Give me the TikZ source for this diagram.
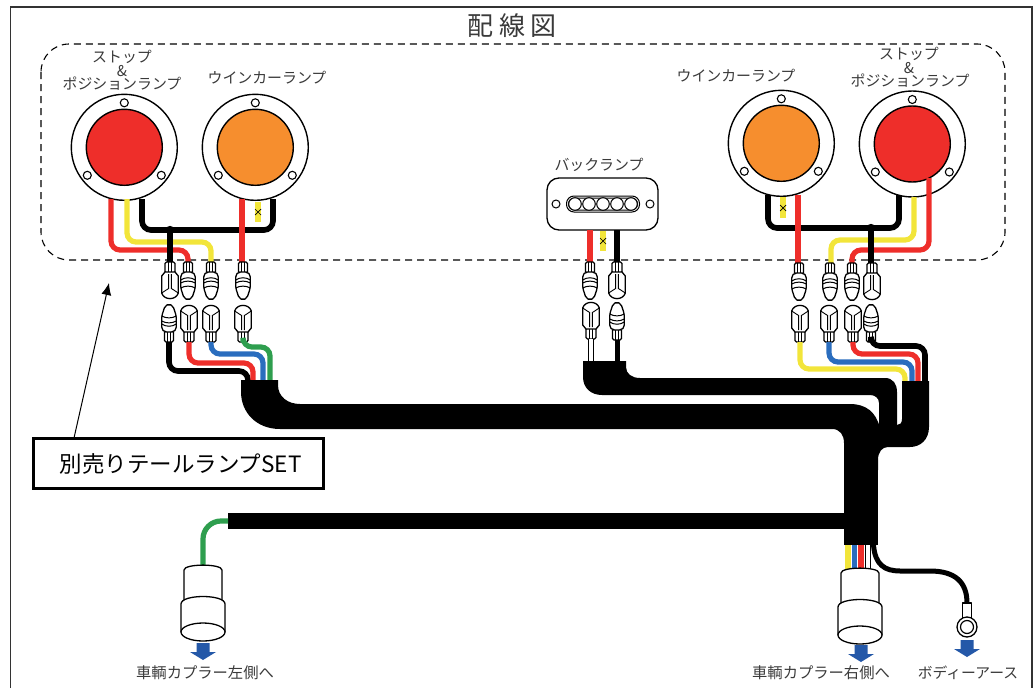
\documentclass[tikz,border=0pt]{standalone}
\usepackage{fontspec}
\newfontfamily\cjk{Noto Sans CJK JP}
\usetikzlibrary{arrows.meta}
\definecolor{lampred}{HTML}{EE2E2A}
\definecolor{lamporange}{HTML}{F68E2E}
\definecolor{wireyellow}{HTML}{F2E53A}
\definecolor{wireblue}{HTML}{2A6DBE}
\definecolor{wiregreen}{HTML}{2E9E4E}
\definecolor{arrowblue}{HTML}{2458A8}
\definecolor{textgray}{HTML}{3A3A3A}
\tikzset{
  lbl/.style={font=\cjk\fontsize{14.9}{16}\selectfont,text=textgray,inner sep=0pt},
  wire/.style={line width=5.2pt,rounded corners=9pt},
  blackwire/.style={wire,black,line width=5.6pt},
  outl/.style={line width=1.3pt,fill=white,line join=round},
  pics/lamp/.style={code={
    \draw[line width=1.4pt,fill=white] (0,0) circle (53pt);
    \draw[line width=1.4pt,fill=#1] (0,0) circle (38pt);
    \draw[line width=1.1pt,fill=white] (0,-44.5) circle (4pt);
    \draw[line width=1.1pt,fill=white] (-37,28) circle (4pt);
    \draw[line width=1.1pt,fill=white] (37,28) circle (4pt);
  }},
  pics/bullet/.style={code={
    \coordinate (-top) at (0,0);
    \draw[outl,rounded corners=1.5pt] (-4.5,0) -- (-4.5,11) -- (4.5,11) -- (4.5,0) -- cycle;
    \draw[line width=1pt] (-1.7,0) -- (-1.7,10) (1.7,0) -- (1.7,10);
    \draw[outl,rounded corners=2pt] (-4.5,10) -- (-7.3,13) -- (-7.3,26) -- (-4,36) -- (0,38) -- (4,36) -- (7.3,26) -- (7.3,13) -- (4.5,10) -- cycle;
    \draw[line width=1pt] (-7.3,18) .. controls (-3,15) and (3,15) .. (7.3,18);
    \draw[line width=1pt] (-7.3,21) .. controls (-3,18.5) and (3,18.5) .. (7.3,21);
    \draw[line width=1pt] (-7.3,26) .. controls (-3,23.5) and (3,23.5) .. (7.3,26);
  }},
  pics/sleeve/.style={code={
    \coordinate (-top) at (0,0);
    \draw[outl,rounded corners=1.5pt] (-5,0) -- (-5,11) -- (5,11) -- (5,0) -- cycle;
    \draw[line width=1pt] (-1.7,0) -- (-1.7,10) (1.7,0) -- (1.7,10);
    \draw[outl] (-5,10) -- (-8.3,14) -- (-8.3,31) .. controls (-6,38.5) and (6,38.5) .. (8.3,31) -- (8.3,14) -- (5,10) -- cycle;
    \draw[line width=.9pt] (-8.3,31) -- (-1.4,26.5) -- (-1.4,12) (8.3,31) -- (1.4,26.5) -- (1.4,12);
  }},
  pics/coupler/.style={code={
    \draw[outl] (-19,5) .. controls (-19,-1.5) and (19,-1.5) .. (19,5) -- (19,38) -- (-19,38) -- cycle;
    \draw[outl] (-22,67) -- (-22,39) .. controls (-22,29) and (22,29) .. (22,39) -- (22,67) -- cycle;
    \draw[outl] (0,67) ellipse (22pt and 9pt);
  }},
  pics/downarrow/.style={code={
    \fill[arrowblue] (-6.5,0) -- (6.5,0) -- (6.5,9) -- (13,9) -- (0,17) -- (-13,9) -- (-6.5,9) -- cycle;
  }},
  pics/xmark/.style={code={
    \draw[line width=.7pt] (-3,-3) -- (3,3) (-3,3) -- (3,-3);
  }},
}
\begin{document}
\begin{tikzpicture}[x=1pt,y=-1pt]
\useasboundingbox (0,0) rectangle (1036,688);
\draw[line width=1.6pt,color=black!80] (10.5,688) -- (10.5,7) -- (1032,7) -- (1032,688);
\node[lbl,font=\cjk\fontsize{26}{28}\selectfont] (title) at (512,26) {配 線 図};
\draw[line width=1.1pt,dash pattern=on 7pt off 5pt,rounded corners=28pt] (41,44) rectangle (1005,260);

% lamps
\pic (lampa) at (124.3,147.3) {lamp={lampred}};
\pic (lampb) at (255.3,147.3) {lamp={lamporange}};
\pic (lampc) at (781.3,143.3) {lamp={lamporange}};
\pic (lampd) at (912.3,144) {lamp={lampred}};
\node[lbl] (stopa) at (122,57) {ストップ};
\node[lbl] (anda) at (122,71) {\&};
\node[lbl] (posa) at (122,84) {ポジションランプ};
\node[lbl] (winka) at (267,78) {ウインカーランプ};
\node[lbl] (winkb) at (736,76) {ウインカーランプ};
\node[lbl] (stopb) at (909,54) {ストップ};
\node[lbl] (andb) at (909,68) {\&};
\node[lbl] (posb) at (910,81) {ポジションランプ};

% back lamp
\node[lbl] (backtext) at (599,165) {バックランプ};
\draw[line width=1.3pt,fill=white,rounded corners=12pt] (547,178) rectangle (658,230);
\draw[line width=1pt,rounded corners=7.5pt] (566.5,196) rectangle (639.5,212);
\draw[line width=1pt,rounded corners=6pt] (568.5,198) rectangle (637.5,210);
\draw[line width=1pt,fill=white] (575,204) circle (6.3pt) (589,204) circle (6.3pt) (603,204) circle (6.3pt) (617,204) circle (6.3pt) (631,204) circle (6.3pt);
\draw[line width=1pt] (556,204) circle (4pt) (650,204) circle (4pt);

% connectors, upper row and lower row
\coordinate (hla) at (248,381);
\coordinate (hlb) at (253,381);
\coordinate (hlc) at (263,381);
\coordinate (hld) at (270,381);
\coordinate (hra) at (905,382);
\coordinate (hrb) at (912,382);
\coordinate (hrc) at (918,382);
\coordinate (hrd) at (925,382);
\coordinate (dota) at (170,230);
\coordinate (dotb) at (871,228);

\draw[wire,lampred] (111,199) |- (188,250) -- (188,264);
\draw[wire,wireyellow] (127,199) |- (211,242) -- (211,264);
\draw[blackwire] (142,199) |- (273,230) -- (273,199);
\draw[blackwire] (dota) -- (170,264);
\draw[wire,lampred] (242,199) -- (242,264);
\draw[wire,wireyellow] (258,202) -- (258,222);
\pic at (258,212) {xmark};
\fill (dota) circle (4.2pt);

\draw[wire,lampred] (590,230) -- (590,264);
\draw[wire,wireyellow] (603,231) -- (603,251);
\pic at (603,241) {xmark};
\draw[blackwire] (617,230) -- (617,264);

\draw[wire,wireyellow] (783,197) -- (783,218);
\pic at (783,208) {xmark};
\draw[wire,wireyellow] (914,197) |- (831,240) -- (831,264);
\draw[wire,lampred] (929,178) |- (852,250) -- (852,264);
\draw[blackwire] (768,195) |- (899,228) -- (899,195);
\draw[wire,lampred] (798,195) -- (798,264);
\draw[blackwire] (dotb) -- (871,264);
\fill (dotb) circle (4.2pt);

\pic (ua) at (170,262) {sleeve};
\pic (ub) at (188,262) {bullet};
\pic (uc) at (211,262) {bullet};
\pic (ud) at (243,262) {bullet};
\pic[yscale=-1] (la) at (169,342) {bullet};
\pic[yscale=-1] (lb) at (189,342) {sleeve};
\pic[yscale=-1] (lc) at (211,342) {sleeve};
\pic[yscale=-1] (ld) at (243,342) {sleeve};

\pic (um) at (590,262) {bullet};
\pic (un) at (617,262) {sleeve};
\pic[yscale=-1] (lm) at (591,339) {sleeve};
\pic[yscale=-1] (ln) at (617,340) {bullet};

\pic (ue) at (799,263) {bullet};
\pic (uf) at (830,263) {bullet};
\pic (ug) at (852,263) {bullet};
\pic (uh) at (872,263) {sleeve};
\pic[yscale=-1] (le) at (800,342) {sleeve};
\pic[yscale=-1] (lf) at (829,342) {sleeve};
\pic[yscale=-1] (lg) at (853,342) {sleeve};
\pic[yscale=-1] (lh) at (871,342) {bullet};

\draw[blackwire] (la-top) -- ++(0,29) -| (hla);
\draw[wire,lampred] (lb-top) -- ++(0,21) -| (hlb);
\draw[wire,wireblue] (lc-top) -- ++(0,12) -| (hlc);
\draw[wire,wiregreen] (ld-top) -- ++(0,5) -| (hld);

\draw[wire,wireyellow] (le-top) -- ++(0,27) -| (hra);
\draw[wire,wireblue] (lf-top) -- ++(0,20) -| (hrb);
\draw[wire,lampred] (lg-top) -- ++(0,12) -| (hrc);
\draw[blackwire] (lh-top) -- ++(0,4) -| (hrd);

\draw[line width=6.5pt] (lm-top) -- (591,363);
\draw[line width=4pt,white] (lm-top) -- (591,363);
\draw[line width=5pt] (ln-top) -- (617,363);

% harness
\fill (241,380) -- (278,380) -- (278,385) .. controls (278,397) and (288,404) .. (300,404) -- (850,404) .. controls (866,404) and (876,412) .. (880,428) -- (880,445) -- (844,445) -- (844,443) .. controls (844,435) and (840,429) .. (832,429) -- (280,429) .. controls (256,429) and (241,412) .. (241,392) -- cycle;
\fill (583,361) -- (626,361) -- (626,367) .. controls (626,374) and (632,378) .. (640,378) -- (885,378) .. controls (893,378) and (897,384) .. (897,392) -- (897,430) -- (879,430) -- (879,403) .. controls (879,398) and (875,395) .. (870,395) -- (602,395) .. controls (591,395) and (583,388) .. (583,377) -- cycle;
\fill (902,381) -- (929,381) -- (929,427) .. controls (929,440) and (920,447) .. (910,447) -- (888,447) .. controls (882,447) and (878,452) .. (878,460) -- (878,470) -- (860,470) -- (860,425) -- (897,425) .. controls (900,425) and (902,423) .. (902,419) -- cycle;
\fill (844,440) rectangle (878,545);
\fill (228,513) rectangle (850,529);

% lower end of the harness
\coordinate (leftend) at (228,521);
\coordinate (leftplug) at (203,566);
\coordinate (rightplug) at (860,570);
\coordinate (ringtop) at (967,603);
\draw[wire,wiregreen,rounded corners=18pt] (leftend) -| (leftplug);
\draw[line width=5.4pt,wireyellow] (848,545) -- (848,572);
\draw[line width=5.4pt,wireblue] (854.5,545) -- (854.5,572);
\draw[line width=5.4pt,lampred] (861,545) -- (861,572);
\draw[line width=5.6pt] (868,545) -- (868,572);
\draw[line width=3.8pt,white] (868,545) -- (868,572);
\draw[line width=5pt] (873.5,545) .. controls (875,565) and (885,571) .. (900,571) -- (930,571) .. controls (955,571) and (967,582) .. (ringtop);
\pic at (203,565) {coupler};
\pic at (860,568) {coupler};
\draw[outl] (962.8,603) -- (962.8,620) -- (971.2,620) -- (971.2,603) -- cycle;
\draw[outl] (967,627) circle (10pt);
\draw[line width=1.2pt] (967,627) circle (6.5pt);
\pic at (203,643) {downarrow};
\pic at (861,645) {downarrow};
\pic at (967,640) {downarrow};
\node[lbl,font=\cjk\fontsize{15.3}{17}\selectfont] (cara) at (205,673) {車輌カプラー左側へ};
\node[lbl,font=\cjk\fontsize{15.3}{17}\selectfont] (carb) at (821,673) {車輌カプラー右側へ};
\node[lbl,font=\cjk\fontsize{14.8}{17}\selectfont] (earth) at (968,673) {ボディーアース};

% set label
\node[draw,line width=2.4pt,minimum width=290pt,minimum height=50pt,inner sep=0pt,font=\cjk\fontsize{22.5}{24}\selectfont] (setbox) at (178.5,463.5) {\hspace{4pt}別売りテールランプSET};
\coordinate (leadfoot) at (74,438);
\coordinate (leadtip) at (109,283);
\draw[-{Latex[length=12pt,width=10pt]},line width=1pt] (leadfoot) -- (leadtip);
\end{tikzpicture}
\end{document}
